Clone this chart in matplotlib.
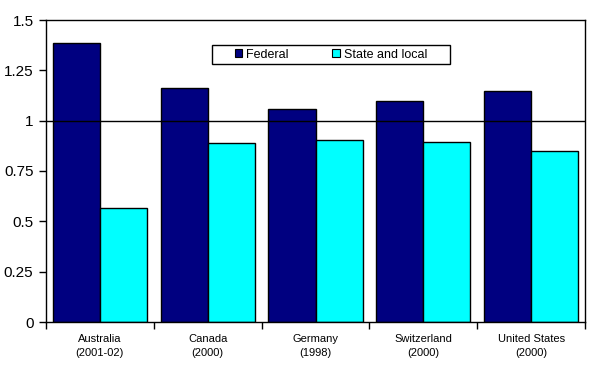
import numpy as np
import matplotlib.pyplot as plt
from matplotlib.ticker import FixedLocator
from matplotlib.patches import Rectangle

plt.rcParams['font.family'] = ['Liberation Sans', 'DejaVu Sans']

# Data
countries = ['Australia\n(2001-02)', 'Canada\n(2000)', 'Germany\n(1998)',
             'Switzerland\n(2000)', 'United States\n(2000)']
federal = [1.385, 1.16, 1.057, 1.10, 1.146]
state_local = [0.565, 0.888, 0.903, 0.893, 0.848]

x = np.arange(len(countries))
w = 0.436

fig = plt.figure(figsize=(5.94, 3.65), dpi=100)
ax = fig.add_axes([46 / 594, 1 - 322 / 365, 539 / 594, 302 / 365])

ax.bar(x - w / 2, federal, w, color='#000080', edgecolor='black', linewidth=1,
       label='Federal', zorder=2)
ax.bar(x + w / 2, state_local, w, color='#00FFFF', edgecolor='black', linewidth=1,
       label='State and local', zorder=2)
ax.axhline(1, color='black', linewidth=1, zorder=3)

ax.set_xlim(-0.5, len(countries) - 0.5)
ax.set_ylim(0, 1.5)
ax.set_yticks([0, 0.25, 0.5, 0.75, 1, 1.25, 1.5])
ax.set_yticklabels(['0', '0.25', '0.5', '0.75', '1', '1.25', '1.5'], fontsize=11)
ax.set_xticks(x)
ax.set_xticklabels(countries, fontsize=8, linespacing=1.5)
ax.xaxis.set_minor_locator(FixedLocator(np.arange(-0.5, len(countries), 1)))
ax.tick_params(axis='x', which='major', length=0, pad=9)
ax.tick_params(axis='x', which='minor', length=5, width=1, direction='out')
ax.tick_params(axis='y', length=5, width=1, direction='out', pad=4)

for s in ax.spines.values():
    s.set_linewidth(1)
    s.set_color('black')

# legend box (Excel style) drawn separately, entries centred in it
box_x0, box_x1 = (212 - 46) / 539, (450 - 46) / 539
box_y0, box_y1 = 1 - (64 - 20) / 302, 1 - (45 - 20) / 302
ax.add_patch(Rectangle((box_x0, box_y0), box_x1 - box_x0, box_y1 - box_y0,
                       transform=ax.transAxes, facecolor='white', edgecolor='black',
                       linewidth=1, zorder=4))
leg = ax.legend(loc='center', bbox_to_anchor=((box_x0 + box_x1) / 2, (box_y0 + box_y1) / 2),
                ncol=2, fontsize=9, frameon=False,
                handlelength=0.6, handleheight=0.6, handletextpad=0.3,
                borderpad=0, columnspacing=3.5)
leg.set_zorder(5)
for h in leg.legend_handles:
    h.set_linewidth(0.8)

fig.savefig('out.png', dpi=100)
